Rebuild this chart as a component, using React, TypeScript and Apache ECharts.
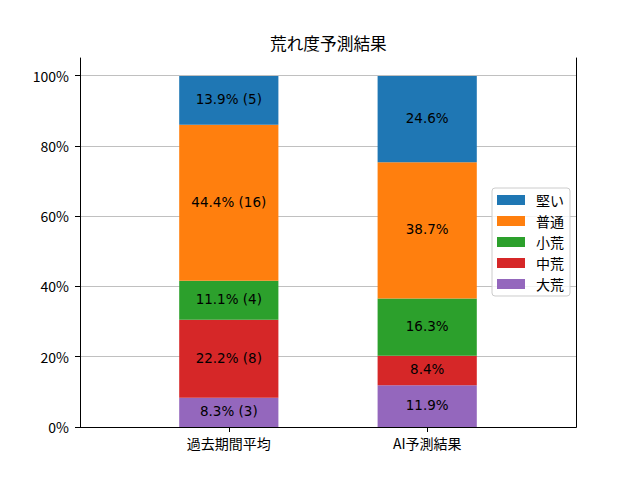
import React, { useEffect, useRef } from "react";
import * as echarts from "echarts";

const title = "荒れ度予測結果";
const categories = ["過去期間平均", "AI予測結果"];
const seriesNames = ["大荒", "中荒", "小荒", "普通", "堅い"];
const colors = ["#9467bd", "#d62728", "#2ca02c", "#ff7f0e", "#1f77b4"];
// percentages, bottom to top: 大荒, 中荒, 小荒, 普通, 堅い
const pastValues = [8.3, 22.2, 11.1, 44.4, 13.9];
const pastCounts = [3, 8, 4, 16, 5];
const aiValues = [11.9, 8.4, 16.3, 38.7, 24.6];
const legendOrder = ["堅い", "普通", "小荒", "中荒", "大荒"];
const yTicks = [0, 20, 40, 60, 80, 100];

const FONT = "'Noto Sans CJK JP', 'DejaVu Sans', sans-serif";
const LABEL_FONT = "'DejaVu Sans', 'Noto Sans CJK JP', sans-serif";

export default function App() {
  const ref = useRef<HTMLDivElement>(null);

  useEffect(() => {
    document.body.style.margin = "0";
    if (!ref.current) return;
    const chart = echarts.init(ref.current, undefined, { renderer: "svg" });

    // five slots: gap, past, gap, ai, gap -> puts bars where matplotlib has them
    const slots = ["_l", categories[0], "_m", categories[1], "_r"];
    const shown = (i: number) => i === 1 || i === 3;

    const series = seriesNames.map((name, k) => ({
      name,
      type: "bar",
      stack: "total",
      barWidth: "100%",
      itemStyle: { color: colors[k] },
      label: {
        show: true,
        position: "inside",
        offset: [0, -1],
        color: "#000",
        fontSize: 13.5,
        fontFamily: LABEL_FONT,
        formatter: (p: any) =>
          p.dataIndex === 1
            ? `${pastValues[k].toFixed(1)}% (${pastCounts[k]})`
            : `${aiValues[k].toFixed(1)}%`,
      },
      data: ["-", pastValues[k], "-", aiValues[k], "-"],
    }));

    chart.setOption({
      animation: false,
      backgroundColor: "#fff",
      textStyle: { fontFamily: FONT },
      title: {
        text: title,
        left: 270,
        top: 35,
        padding: 0,
        textStyle: { fontSize: 16.7, fontWeight: "normal", color: "#000", fontFamily: FONT },
      },
      grid: { left: 80, right: 64, top: 58, bottom: 53, containLabel: false },
      legend: {
        data: legendOrder,
        orient: "vertical",
        left: 492,
        top: 188,
        icon: "rect",
        itemWidth: 28,
        itemHeight: 10,
        itemGap: 7,
        padding: [5, 6, 5, 5],
        backgroundColor: "rgba(255,255,255,0.8)",
        borderColor: "#cccccc",
        borderWidth: 1,
        borderRadius: 3,
        textStyle: { fontSize: 14, color: "#000", fontFamily: FONT, padding: [0, 0, 0, 6] },
      },
      xAxis: [
        {
          type: "category",
          data: slots,
          boundaryGap: true,
          axisLine: { show: true, lineStyle: { color: "#000", width: 1 } },
          axisTick: {
            show: true,
            alignWithLabel: true,
            interval: (i: number) => shown(i),
            length: 5,
            lineStyle: { color: "#000", width: 1 },
          },
          axisLabel: {
            interval: (i: number) => shown(i),
            formatter: (v: string) => (categories.includes(v) ? v : ""),
            color: "#000",
            fontSize: 14,
            fontFamily: FONT,
            margin: 9,
          },
          splitLine: { show: false },
        },
        {
          type: "category",
          position: "top",
          data: slots,
          axisLine: { show: true, lineStyle: { color: "#000", width: 1 } },
          axisTick: { show: false },
          axisLabel: { show: false },
          splitLine: { show: false },
        },
      ],
      yAxis: [
        {
          type: "value",
          min: 0,
          max: 105,
          interval: 20,
          axisLine: { show: true, lineStyle: { color: "#000", width: 1 } },
          axisTick: { show: true, length: 5, lineStyle: { color: "#000", width: 1 }, customValues: yTicks },
          axisLabel: {
            customValues: yTicks,
            formatter: (v: number) => `${v}%`,
            color: "#000",
            fontSize: 14,
            fontFamily: FONT,
            margin: 11,
          },
          splitLine: { show: true, lineStyle: { color: "#b0b0b0", width: 0.8 } },
        },
        {
          type: "value",
          position: "right",
          min: 0,
          max: 105,
          axisLine: { show: true, lineStyle: { color: "#000", width: 1 } },
          axisTick: { show: false },
          axisLabel: { show: false },
          splitLine: { show: false },
        },
      ],
      series,
    });

    return () => chart.dispose();
  }, []);

  return <div ref={ref} style={{ width: 640, height: 480 }} />;
}
